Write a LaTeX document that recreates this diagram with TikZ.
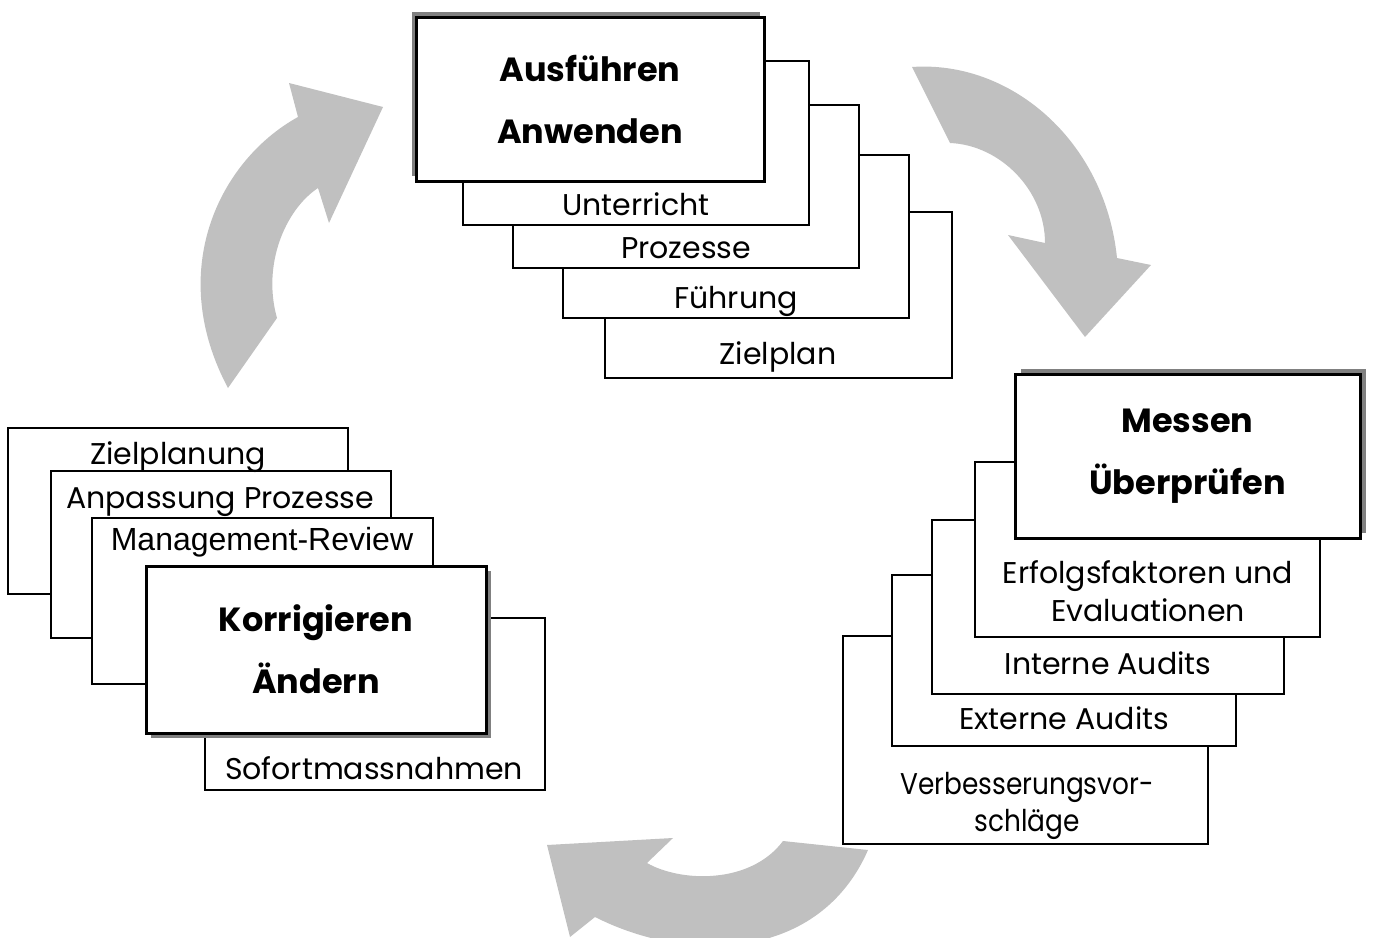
\documentclass[tikz,border=0pt]{standalone}
\usepackage{fontspec}
\setmainfont{Poppins}
\newfontfamily\arialfont{Liberation Sans}
\newfontfamily\narrowfont{Poppins}[FakeStretch=0.88]
\usetikzlibrary{shadows}
\definecolor{arrowgray}{HTML}{C0C0C0}
\definecolor{shadowgray}{HTML}{808080}
\tikzset{
  subbox/.style={
    draw, line width=1.4pt, fill=white, inner sep=0pt
  },
  mainbox/.style={
    draw, line width=3pt, fill=white, inner sep=0pt,
    align=center, font=\bfseries\fontsize{33.5}{62}\selectfont
  },
  subtext/.style={
    anchor=base, inner sep=0pt, align=center,
    font=\fontsize{30}{38}\selectfont
  },
  cyclearrow/.style={fill=arrowgray}
}

\begin{document}
\begin{tikzpicture}[x=1pt, y=-1pt]
\useasboundingbox (0,0) rectangle (1373,937);

%% ── Cycle arrows ─────────────────────────────────────────────
\begin{scope}
\clip (0,0) rectangle (1373,937);
\fill[cyclearrow] (228,388) .. controls (165,270) and (220,160) .. (298,117)
  -- (289,83) -- (383,107) -- (329,223) -- (318,188)
  .. controls (285,210) and (262,265) .. (277,318) -- cycle;
\fill[cyclearrow] (912,67) .. controls (1010,60) and (1105,140) .. (1117,258)
  -- (1151,265) -- (1085,337) -- (1008,235) -- (1045,243)
  .. controls (1045,190) and (1000,145) .. (950,143) -- cycle;
\fill[cyclearrow] (868,850) -- (783,841)
  .. controls (750,885) and (680,882) .. (647,863)
  -- (673,838) -- (547,845) -- (570,937) -- (595,917)
  .. controls (690,965) and (820,960) .. (868,850) -- cycle;
\end{scope}

%% ── Ausfuehren group ─────────────────────────────────────────
\node[subbox, minimum width=347pt, minimum height=166pt] (zielplan) at (778.5,295) {};
\node[subbox, minimum width=346pt, minimum height=163pt] (fuehrung) at (736,236.5) {};
\node[subbox, minimum width=346pt, minimum height=163pt] (prozesse) at (686,186.5) {};
\node[subbox, minimum width=346pt, minimum height=164pt] (unterricht) at (636,143) {};
\node[mainbox, minimum width=348pt, minimum height=164pt,
      drop shadow={shadow xshift=-4pt, shadow yshift=5pt, fill=shadowgray, opacity=1}]
      (ausfuehren) at (590,99) {Ausführen\\Anwenden};

\node[subtext] (t-unterricht) at (636,215) {Unterricht};
\node[subtext] (t-prozesse) at (686,258) {Prozesse};
\node[subtext] (t-fuehrung) at (736,308) {Führung};
\node[subtext] (t-zielplan) at (778,364) {Zielplan};

%% ── Messen group ─────────────────────────────────────────────
\node[subbox, minimum width=365pt, minimum height=208pt] (verbess) at (1025.5,740) {};
\node[subbox, minimum width=344pt, minimum height=171pt] (externe) at (1064,660.5) {};
\node[subbox, minimum width=352pt, minimum height=174pt] (interne) at (1108,607) {};
\node[subbox, minimum width=345pt, minimum height=175pt] (erfolg) at (1147.5,549.5) {};
\node[mainbox, minimum width=345pt, minimum height=164pt,
      drop shadow={shadow xshift=6pt, shadow yshift=5pt, fill=shadowgray, opacity=1}]
      (messen) at (1187.5,456) {Messen\\Überprüfen};

\node[subtext] (t-erfolg) at (1148,621) {Erfolgsfaktoren und\\Evaluationen};
\node[subtext] (t-interne) at (1108,674) {Interne Audits};
\node[subtext] (t-externe) at (1064,729) {Externe Audits};
\node[subtext, font=\narrowfont\fontsize{30}{37}\selectfont]
      (t-verbess) at (1027,831) {Verbesserungsvor-\\schläge};

%% ── Korrigieren group ────────────────────────────────────────
\node[subbox, minimum width=340pt, minimum height=166pt] (zielplanung) at (178,511) {};
\node[subbox, minimum width=340pt, minimum height=167pt] (anpassung) at (221,554.5) {};
\node[subbox, minimum width=341pt, minimum height=166pt] (management) at (262.5,601) {};
\node[subbox, minimum width=340pt, minimum height=172pt] (sofort) at (375,704) {};
\node[mainbox, minimum width=340pt, minimum height=167pt,
      drop shadow={shadow xshift=5pt, shadow yshift=-5pt, fill=shadowgray, opacity=1}]
      (korrigieren) at (316,649.5) {Korrigieren\\Ändern};

\node[subtext] (t-zielplanung) at (178,464) {Zielplanung};
\node[subtext] (t-anpassung) at (220,508) {Anpassung Prozesse};
\node[subtext, font=\arialfont\fontsize{32}{35}\selectfont]
      (t-management) at (262,550) {Management-Review};
\node[subtext] (t-sofort) at (374,779) {Sofortmassnahmen};

\end{tikzpicture}
\end{document}
